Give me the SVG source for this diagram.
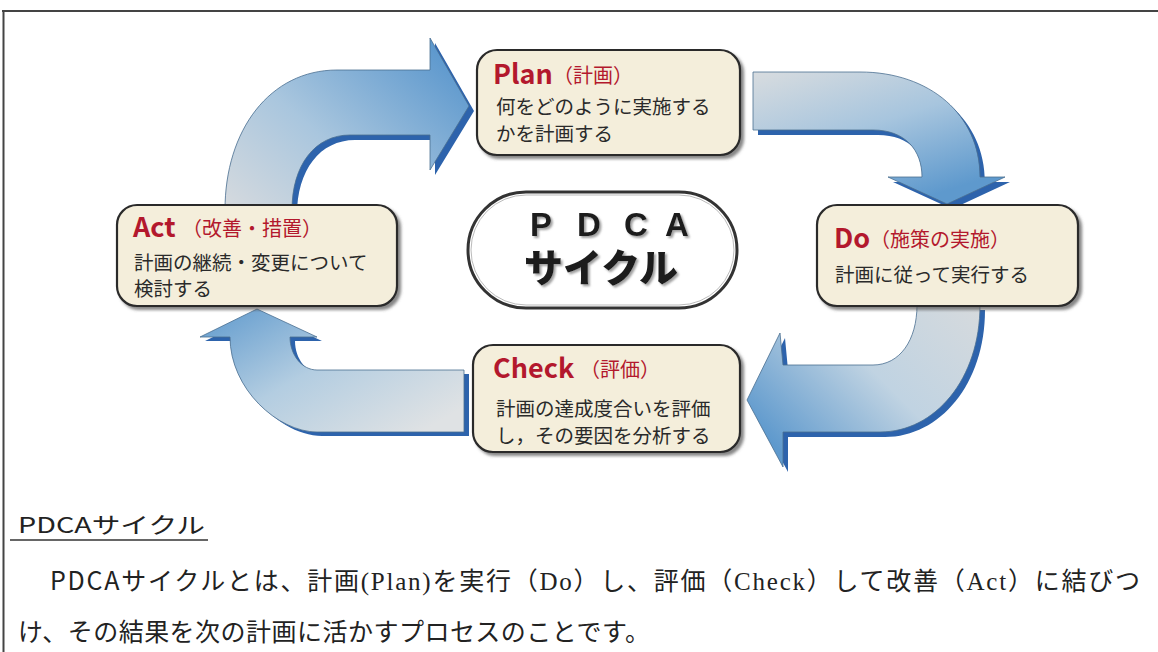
<svg xmlns="http://www.w3.org/2000/svg" width="1158" height="652" viewBox="0 0 1158 652">
<style>
.box{fill:#f4eedb;stroke:#2b2b2b;stroke-width:2.2}
.ttl{font-family:"Noto Sans CJK JP","Noto Sans",sans-serif;font-weight:700;font-size:27px;fill:#b3182d}
.sub{font-family:"Noto Sans CJK JP",sans-serif;font-weight:400;font-size:20px;fill:#b3182d}
.body{font-family:"Noto Sans CJK JP",sans-serif;font-weight:400;font-size:19.5px;fill:#2a2a2a}
.arr{stroke:#4a6f90;stroke-width:0.8}
.shd{fill:#2d63ac}
.para{font-family:"Noto Sans CJK JP",sans-serif;font-size:25px;fill:#222}
.ser{font-family:"Liberation Serif","Noto Serif CJK JP",serif}
.ctr{fill:#1a1a1a;filter:url(#ts)}
</style>
<defs>
<filter id="ds" x="-10%" y="-10%" width="125%" height="130%">
<feDropShadow dx="3" dy="3" stdDeviation="1.5" flood-color="#555" flood-opacity="0.7"/>
</filter>
<filter id="ts" x="-10%" y="-20%" width="130%" height="150%">
<feDropShadow dx="2" dy="2" stdDeviation="0.8" flood-color="#888" flood-opacity="0.8"/>
</filter>
<linearGradient id="g1" x1="0" y1="1" x2="1" y2="0.2">
<stop offset="0" stop-color="#d6dade"/><stop offset="0.45" stop-color="#a9c6de"/><stop offset="1" stop-color="#5b97cd"/>
</linearGradient>
<linearGradient id="g2" x1="0" y1="0" x2="0.6" y2="1">
<stop offset="0" stop-color="#d8dcdf"/><stop offset="0.5" stop-color="#a7c5de"/><stop offset="1" stop-color="#5e99cd"/>
</linearGradient>
<linearGradient id="g3" x1="1" y1="0" x2="0" y2="0.7">
<stop offset="0" stop-color="#d6dadd"/><stop offset="0.5" stop-color="#c0d3e2"/><stop offset="1" stop-color="#5e99cd"/>
</linearGradient>
<linearGradient id="g4" x1="1" y1="0.8" x2="0" y2="0">
<stop offset="0" stop-color="#dfe2e4"/><stop offset="0.5" stop-color="#b3cde1"/><stop offset="1" stop-color="#5e99cd"/>
</linearGradient>
</defs>
<rect width="1158" height="652" fill="#ffffff"/>
<path d="M2,11 H1158 M3.5,11 V652" fill="none" stroke="#444" stroke-width="2"/>

<g id="connectors">
  <g id="arrow-act-plan">
    <path class="shd" transform="translate(5,5)" d="M225,210 C225,130 270,70 337,70 L430,70 L430,38 L469,106 L430,170 L430,135 L350,135 C315,135 292,165 292,210 Z"/>
    <path class="arr" fill="url(#g1)" d="M225,210 C225,130 270,70 337,70 L430,70 L430,38 L469,106 L430,170 L430,135 L350,135 C315,135 292,165 292,210 Z"/>
  </g>
  <g id="arrow-plan-do">
    <path class="shd" transform="translate(5,5)" d="M753,72 L860,72 C930,72 980,115 980,177 L1005,177 L947,204 L888,177 L922,177 C922,150 905,130 873,130 L753,130 Z"/>
    <path class="arr" fill="url(#g2)" d="M753,72 L860,72 C930,72 980,115 980,177 L1005,177 L947,204 L888,177 L922,177 C922,150 905,130 873,130 L753,130 Z"/>
  </g>
  <g id="arrow-do-check">
    <path class="shd" transform="translate(5,5)" d="M917,305 C917,340 900,365 873,365 L783,365 L780,333 L747,400 L783,467 L783,432 L880,432 C935,432 980,379 980,305 Z"/>
    <path class="arr" fill="url(#g3)" d="M917,305 C917,340 900,365 873,365 L783,365 L780,333 L747,400 L783,467 L783,432 L880,432 C935,432 980,379 980,305 Z"/>
  </g>
  <g id="arrow-check-act">
    <path class="shd" transform="translate(5,4)" d="M464,370 L317,370 C302,370 290,355 290,337 L317,337 L257,309 L200,337 L230,337 C230,389 278,432 317,432 L464,432 Z"/>
    <path class="arr" fill="url(#g4)" d="M464,370 L317,370 C302,370 290,355 290,337 L317,337 L257,309 L200,337 L230,337 C230,389 278,432 317,432 L464,432 Z"/>
  </g>
</g>

<g id="plan">
  <rect class="box" filter="url(#ds)" x="477" y="50" width="263" height="105" rx="20"/>
  <text class="ttl" x="493" y="84">Plan</text>
  <text class="sub" x="553" y="83">（計画）</text>
  <text class="body" x="496" y="114">何をどのように実施する</text>
  <text class="body" x="496" y="141">かを計画する</text>
</g>

<g id="act">
  <rect class="box" filter="url(#ds)" x="117" y="205" width="280" height="101" rx="20"/>
  <text class="ttl" x="133" y="237">Act</text>
  <text class="sub" x="182" y="236">（改善・措置）</text>
  <text class="body" x="134" y="270">計画の継続・変更について</text>
  <text class="body" x="134" y="296">検討する</text>
</g>

<g id="do">
  <rect class="box" filter="url(#ds)" x="817" y="205" width="261" height="101" rx="20"/>
  <text class="ttl" x="834" y="248">Do</text>
  <text class="sub" x="870" y="247">（施策の実施）</text>
  <text class="body" x="835" y="282">計画に従って実行する</text>
</g>

<g id="check">
  <rect class="box" filter="url(#ds)" x="473" y="345" width="267" height="107" rx="20"/>
  <text class="ttl" x="493" y="378">Check</text>
  <text class="sub" x="580" y="377">（評価）</text>
  <text class="body" x="496" y="416">計画の達成度合いを評価</text>
  <text class="body" x="496" y="443">し，その要因を分析する</text>
</g>

<g id="center">
  <rect x="468" y="192" width="269" height="116" rx="58" fill="#fff" stroke="#333" stroke-width="3"/>
  <rect x="471" y="195" width="263" height="110" rx="55" fill="none" stroke="#bbb" stroke-width="1"/>
  <text class="ctr" x="530 577 624 665" y="236" font-family="Liberation Sans,Arial,sans-serif" font-weight="700" font-size="33">PDCA</text>
  <text class="ctr" x="601" y="282" text-anchor="middle" font-family="Noto Sans CJK JP,sans-serif" font-weight="900" font-size="39">サイクル</text>
</g>

<g id="caption">
  <text x="18" y="533" font-family="Noto Sans CJK JP,sans-serif" font-size="22" fill="#222" textLength="187" lengthAdjust="spacingAndGlyphs">PDCAサイクル</text>
  <line x1="10" y1="540" x2="208" y2="540" stroke="#333" stroke-width="1.6"/>
  <text class="para" x="50" y="590" textLength="1090" lengthAdjust="spacing">PDCAサイクルとは、計画<tspan class="ser">(Plan)</tspan>を実行（<tspan class="ser">Do</tspan>）し、評価（<tspan class="ser">Check</tspan>）して改善（<tspan class="ser">Act</tspan>）に結びつ</text>
  <text class="para" x="18" y="641" textLength="632" lengthAdjust="spacing">け、その結果を次の計画に活かすプロセスのことです。</text>
</g>
</svg>
